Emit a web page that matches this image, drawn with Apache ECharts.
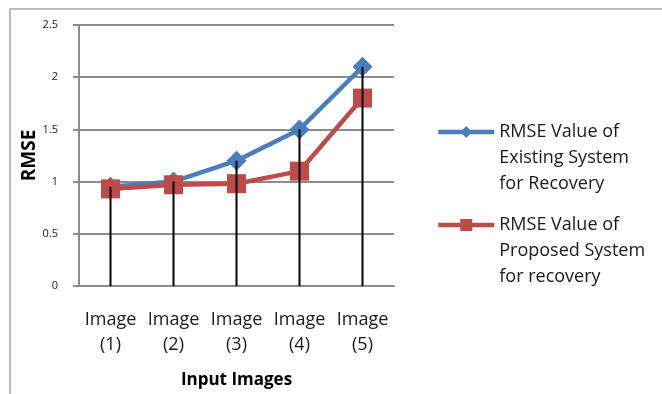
<!DOCTYPE html>
<html>
<head>
<meta charset="utf-8">
<script src="https://cdn.jsdelivr.net/npm/echarts@6/dist/echarts.min.js"></script>
<style>
  html, body { margin: 0; padding: 0; background: #fff; }
  #chart { width: 662px; height: 394px; }
</style>
</head>
<body>
<div id="chart"></div>
<script>
// Input images on the category axis
const categories = ['Image\n(1)', 'Image\n(2)', 'Image\n(3)', 'Image\n(4)', 'Image\n(5)'];
// RMSE values per image
const existingRmse = [0.95, 1.0, 1.2, 1.5, 2.1];
const proposedRmse = [0.93, 0.97, 0.98, 1.1, 1.8];
// Series names and their wrapped legend lines
const seriesNames = ['RMSE Value of Existing System for Recovery', 'RMSE Value of Proposed System for recovery'];
const legendLines = [
  ['RMSE Value of', 'Existing System', 'for Recovery'],
  ['RMSE Value of', 'Proposed System', 'for recovery']
];
// y-axis scale
const yMin = 0, yMax = 2.5, yStep = 0.5;

// Drop lines run from the higher of the two values down to the axis
const dropLines = existingRmse.map((v, i) => Math.max(v, proposedRmse[i]));

const FONT = 'Open Sans';
const BLUE = '#4a7ebb';
const RED = '#be4b48';
const GRID = '#8c8c8c';

const chart = echarts.init(document.getElementById('chart'), null, { renderer: 'canvas' });

// Two blank lines ahead of the text keep the icon level with the first line
function legendFormatter(name) {
  const idx = seriesNames.indexOf(name);
  return '\n\n' + legendLines[idx].join('\n');
}

function makeLegend(idx, top) {
  return {
    data: [seriesNames[idx]],
    left: 436,
    top: top,
    padding: 0,
    orient: 'vertical',
    itemWidth: 56,
    itemHeight: 15,
    lineStyle: { width: 4.5 },
    formatter: legendFormatter,
    textStyle: { fontFamily: FONT, fontSize: 18, color: '#1a1a1a', lineHeight: 26 },
    selectedMode: false
  };
}

chart.setOption({
  animation: false,
  backgroundColor: '#ffffff',
  graphic: [{
    type: 'rect',
    shape: { x: 10, y: 9, width: 720, height: 440 },
    style: { fill: 'none', stroke: '#a6a6a6', lineWidth: 1.5 },
    z: -10
  }],
  legend: [makeLegend(0, 67), makeLegend(1, 160)],
  grid: { left: 79, right: 268, top: 25, bottom: 105, containLabel: false },
  xAxis: {
    type: 'category',
    data: categories,
    boundaryGap: true,
    name: 'Input Images',
    nameLocation: 'middle',
    nameGap: 86,
    nameTextStyle: { fontFamily: FONT, fontSize: 17, fontWeight: 'bold', color: '#000' },
    axisLine: { lineStyle: { color: GRID, width: 2 } },
    axisTick: { show: false },
    axisLabel: { interval: 0, fontFamily: FONT, fontSize: 18, color: '#1a1a1a', lineHeight: 25, margin: 21 }
  },
  yAxis: {
    type: 'value',
    min: yMin,
    max: yMax,
    interval: yStep,
    name: 'RMSE',
    nameLocation: 'middle',
    nameRotate: 90,
    nameGap: 40,
    nameTextStyle: { fontFamily: FONT, fontSize: 19, fontWeight: 'bold', color: '#000' },
    axisLine: { show: true, lineStyle: { color: GRID, width: 2 } },
    axisTick: { show: true, length: 6, lineStyle: { color: GRID, width: 2 } },
    splitLine: { lineStyle: { color: GRID, width: 2 } },
    axisLabel: { fontFamily: FONT, fontSize: 11, color: '#1a1a1a', margin: 21 }
  },
  series: [
    {
      name: seriesNames[0],
      type: 'line',
      data: existingRmse,
      symbol: 'diamond',
      symbolSize: 20,
      lineStyle: { color: BLUE, width: 4.5 },
      itemStyle: { color: BLUE },
      z: 3
    },
    {
      name: seriesNames[1],
      type: 'line',
      data: proposedRmse,
      symbol: 'rect',
      symbolSize: 19,
      lineStyle: { color: RED, width: 4.5 },
      itemStyle: { color: RED },
      z: 4
    },
    {
      name: 'drop',
      type: 'bar',
      data: dropLines,
      barWidth: 2,
      itemStyle: { color: '#000' },
      z: 6,
      silent: true
    }
  ]
});
</script>
</body>
</html>
